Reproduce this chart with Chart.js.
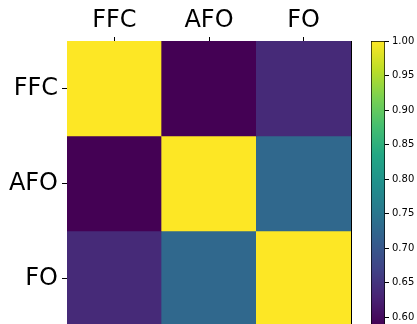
<!DOCTYPE html>
<html>
<head>
<meta charset="utf-8">
<script src="https://cdn.jsdelivr.net/npm/chart.js@4/dist/chart.umd.min.js"></script>
<style>
  html, body { margin: 0; padding: 0; background: #fff; overflow: hidden; }
  #wrap { position: relative; width: 417px; height: 324px; overflow: hidden; }
  #heat { position: absolute; left: 0; top: 0; }
  #cbar { position: absolute; left: 355px; top: 0; }
</style>
</head>
<body>
<div id="wrap">
  <canvas id="heat" width="352" height="326"></canvas>
  <canvas id="cbar" width="62" height="326"></canvas>
</div>
<script>
// correlation matrix
const colLabels = ['FFC', 'AFO', 'FO'];
const rowLabels = ['FFC', 'AFO', 'FO'];
const rowFFC = [1.0, 0.587, 0.637];
const rowAFO = [0.587, 1.0, 0.727];
const rowFO = [0.637, 0.727, 1.0];
const colorbarTicks = [0.60, 0.65, 0.70, 0.75, 0.80, 0.85, 0.90, 0.95, 1.00];

const rows = [rowFFC, rowAFO, rowFO];
const vmin = Math.min(...rowFFC, ...rowAFO, ...rowFO);
const vmax = Math.max(...rowFFC, ...rowAFO, ...rowFO);

// viridis anchors
const viridis = [
  [68, 1, 84], [72, 35, 116], [64, 67, 135], [52, 94, 141], [41, 120, 142],
  [32, 144, 140], [34, 167, 132], [68, 190, 112], [121, 209, 81], [189, 222, 38], [253, 231, 37]
];

function viridisColor(t) {
  t = Math.max(0, Math.min(1, t));
  const pos = t * (viridis.length - 1);
  const i = Math.min(viridis.length - 2, Math.floor(pos));
  const f = pos - i;
  const c = viridis[i].map((v, k) => Math.round(v + (viridis[i + 1][k] - v) * f));
  return `rgb(${c[0]}, ${c[1]}, ${c[2]})`;
}

function cellColor(value) {
  return viridisColor((value - vmin) / (vmax - vmin));
}

function noEdgePadding(scale) {
  scale.paddingTop = 0;
  scale.paddingBottom = 0;
}

const font = 'DejaVu Sans';

const heatChart = new Chart(document.getElementById('heat'), {
  type: 'bar',
  data: {
    labels: colLabels,
    datasets: rows.map((row, r) => ({
      label: rowLabels[r],
      data: row.map(() => 1),
      backgroundColor: row.map(cellColor),
      borderWidth: 0,
      categoryPercentage: 1,
      barPercentage: 1,
      stack: 'heat'
    }))
  },
  options: {
    responsive: false,
    animation: false,
    layout: { padding: 0 },
    plugins: { legend: { display: false }, tooltip: { enabled: false } },
    scales: {
      x: {
        position: 'top',
        stacked: true,
        grid: { offset: false, drawOnChartArea: false, drawTicks: true, tickLength: 4, tickColor: '#000' },
        border: { display: true, color: '#000', width: 1 },
        ticks: { color: '#000', font: { family: font, size: 24 }, padding: 2, maxRotation: 0 },
        afterFit: (scale) => { scale.height = 41; }
      },
      y: {
        stacked: true,
        reverse: true,
        min: 0,
        max: 3,
        afterBuildTicks: (axis) => { axis.ticks = rowLabels.map((_, i) => ({ value: i + 0.5 })); },
        grid: { drawOnChartArea: false, drawTicks: true, tickLength: 5, tickColor: '#000' },
        border: { display: true, color: '#000', width: 1 },
        ticks: {
          color: '#000',
          font: { family: font, size: 24 },
          padding: 4,
          callback: (value, index) => rowLabels[index]
        },
        afterFit: (scale) => { scale.width = 67; noEdgePadding(scale); }
      },
      yRight: {
        position: 'right',
        min: 0,
        max: 3,
        grid: { drawOnChartArea: false, drawTicks: false },
        border: { display: true, color: '#000', width: 1 },
        ticks: { display: false },
        afterFit: (scale) => { scale.width = 1; noEdgePadding(scale); }
      }
    }
  }
});

const cbarChart = new Chart(document.getElementById('cbar'), {
  type: 'bar',
  data: {
    labels: [''],
    datasets: [{
      data: [[vmin, vmax]],
      backgroundColor: (ctx) => {
        const area = ctx.chart.chartArea;
        if (!area) return '#888';
        const g = ctx.chart.ctx.createLinearGradient(0, area.bottom, 0, area.top);
        viridis.forEach((c, i) => g.addColorStop(i / (viridis.length - 1), `rgb(${c[0]}, ${c[1]}, ${c[2]})`));
        return g;
      },
      borderColor: '#000',
      borderWidth: 1,
      borderSkipped: false,
      categoryPercentage: 1,
      barPercentage: 1
    }]
  },
  options: {
    responsive: false,
    animation: false,
    layout: { padding: { left: 16, right: 0, top: 41, bottom: 0 } },
    plugins: { legend: { display: false }, tooltip: { enabled: false } },
    scales: {
      x: { display: false },
      y: {
        position: 'right',
        min: vmin,
        max: vmax,
        afterBuildTicks: (axis) => { axis.ticks = colorbarTicks.map((v) => ({ value: v })); },
        grid: { drawOnChartArea: false, drawTicks: true, tickLength: 4, tickColor: '#000' },
        border: { display: false },
        ticks: {
          color: '#000',
          font: { family: font, size: 10 },
          padding: 3,
          callback: (value) => Number(value).toFixed(2)
        },
        afterFit: (scale) => { scale.width = 32; noEdgePadding(scale); }
      }
    }
  }
});
</script>
</body>
</html>
